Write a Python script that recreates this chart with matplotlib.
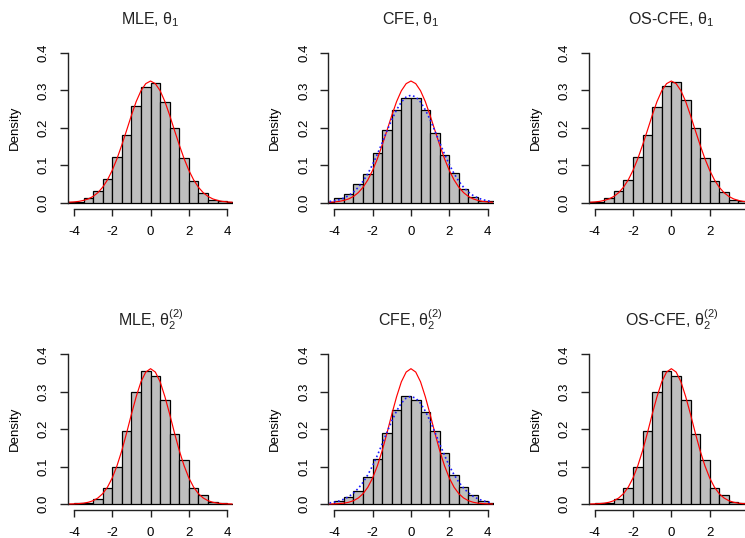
import matplotlib
matplotlib.use("Agg")
import matplotlib.pyplot as plt
import numpy as np

plt.rcParams['font.family'] = ['Liberation Sans', 'DejaVu Sans']
plt.rcParams['mathtext.fontset'] = 'custom'
plt.rcParams['mathtext.rm'] = 'Liberation Sans'
plt.rcParams['mathtext.it'] = 'Liberation Sans:italic'

# histogram bins (left edges, width 0.5)
bin_left = np.arange(-5.0, 5.0, 0.5)

# densities per bin (-5 ... 4.5)
mle_t1 = [0, 0.002, 0.002, 0.0125, 0.032, 0.064, 0.123, 0.180, 0.258, 0.309,
          0.321, 0.270, 0.200, 0.118, 0.058, 0.026, 0.006, 0.003, 0.001, 0]
cfe_t1 = [0, 0.002, 0.013, 0.022, 0.049, 0.077, 0.132, 0.193, 0.248, 0.280,
          0.280, 0.248, 0.187, 0.126, 0.078, 0.035, 0.016, 0.005, 0.003, 0]
os_t1 = [0, 0.002, 0.002, 0.0125, 0.031, 0.061, 0.123, 0.180, 0.255, 0.312,
         0.322, 0.274, 0.200, 0.119, 0.058, 0.027, 0.006, 0.003, 0.001, 0]
mle_t2 = [0, 0, 0.003, 0.004, 0.013, 0.043, 0.098, 0.195, 0.299, 0.357,
          0.343, 0.279, 0.188, 0.117, 0.043, 0.023, 0.005, 0.003, 0, 0]
cfe_t2 = [0, 0, 0.007, 0.019, 0.036, 0.072, 0.120, 0.191, 0.252, 0.288,
          0.279, 0.247, 0.195, 0.136, 0.078, 0.046, 0.023, 0.009, 0.004, 0]
os_t2 = [0, 0, 0.003, 0.004, 0.013, 0.043, 0.098, 0.195, 0.299, 0.357,
         0.343, 0.279, 0.188, 0.117, 0.043, 0.023, 0.005, 0.003, 0, 0]

# curve grid and curve heights
curve_x = np.arange(-4.25, 4.26, 0.25)
red_t1 = [0.0008, 0.0016, 0.0030, 0.0056, 0.0097, 0.0163, 0.0264, 0.0408, 0.0605,
          0.0861, 0.1175, 0.154, 0.193, 0.233, 0.270, 0.299, 0.318, 0.325,
          0.318, 0.299, 0.270, 0.233, 0.193, 0.154, 0.1175, 0.0861, 0.0605,
          0.0408, 0.0264, 0.0163, 0.0097, 0.0056, 0.0030, 0.0016, 0.0008]
red_t2 = [0.0002, 0.0005, 0.0011, 0.0023, 0.0047, 0.0089, 0.0161, 0.0276, 0.0450,
          0.0698, 0.1026, 0.143, 0.190, 0.240, 0.287, 0.327, 0.353, 0.362,
          0.353, 0.327, 0.287, 0.240, 0.190, 0.143, 0.1026, 0.0698, 0.0450,
          0.0276, 0.0161, 0.0089, 0.0047, 0.0023, 0.0011, 0.0005, 0.0002]
blue_t1 = [0.0027, 0.0046, 0.0075, 0.0120, 0.0186, 0.0280, 0.0406, 0.0569, 0.0774,
           0.1019, 0.130, 0.1603, 0.1915, 0.2216, 0.248, 0.269, 0.2824, 0.287,
           0.2824, 0.269, 0.248, 0.2216, 0.1915, 0.1603, 0.130, 0.1019, 0.0774,
           0.0569, 0.0406, 0.0280, 0.0186, 0.0120, 0.0075, 0.0046, 0.0027]
blue_t2 = [0.0030, 0.0050, 0.0082, 0.0130, 0.0198, 0.0292, 0.0418, 0.0580, 0.0782,
           0.1025, 0.1305, 0.1610, 0.1920, 0.2222, 0.2490, 0.2700, 0.2835, 0.288,
           0.2830, 0.2695, 0.2485, 0.2220, 0.1920, 0.1610, 0.1305, 0.1025, 0.0785,
           0.0585, 0.0425, 0.0300, 0.0205, 0.0138, 0.0088, 0.0055, 0.0033]

titles = [r'MLE, $\mathrm{\theta}_1$', r'CFE, $\mathrm{\theta}_1$', r'OS-CFE, $\mathrm{\theta}_1$',
          r'MLE, $\mathrm{\theta}_2^{(2)}$', r'CFE, $\mathrm{\theta}_2^{(2)}$',
          r'OS-CFE, $\mathrm{\theta}_2^{(2)}$']
hists = [mle_t1, cfe_t1, os_t1, mle_t2, cfe_t2, os_t2]
reds = [red_t1, red_t1, red_t1, red_t2, red_t2, red_t2]
blues = [None, blue_t1, None, None, blue_t2, None]

W, H = 745, 538
fig = plt.figure(figsize=(W / 100, H / 100), dpi=100)

col_left = [67.8, 328.2, 588.6]
row_top = [47.0, 348.5]
ax_w, ax_h = 165.5, 161.5

for i in range(6):
    r, c = divmod(i, 3)
    left, top = col_left[c], row_top[r]
    ax = fig.add_axes([left / W, 1 - (top + ax_h) / H, ax_w / W, ax_h / H])

    ax.bar(bin_left, hists[i], width=0.5, align='edge', color='#bebebe',
           edgecolor='black', linewidth=0.9)
    ax.plot(curve_x, reds[i], color='red', lw=0.85)
    if blues[i] is not None:
        ax.plot(curve_x, blues[i], color='#1a1aff', lw=1.2, ls=(0, (1, 1.6)))

    ax.set_xlim(-4.32, 4.32)
    ax.set_ylim(-0.016, 0.416)
    ax.spines['top'].set_visible(False)
    ax.spines['right'].set_visible(False)
    ax.spines['left'].set_bounds(0, 0.4)
    ax.spines['bottom'].set_bounds(-4, 4)
    for s in ('left', 'bottom'):
        ax.spines[s].set_linewidth(1.0)
        ax.spines[s].set_color('#222222')

    ax.set_xticks([-4, -2, 0, 2, 4])
    ax.set_xticklabels(['-4', '-2', '0', '2', '4'])
    ax.set_yticks([0, 0.1, 0.2, 0.3, 0.4])
    ax.set_yticklabels(['0.0', '0.1', '0.2', '0.3', '0.4'], rotation=90, va='center')
    ax.tick_params(axis='x', length=5, width=1.0, pad=7.6, labelsize=9.5, color='#222222')
    ax.tick_params(axis='y', length=6, width=1.0, pad=7, labelsize=9.5, color='#222222')
    ax.patch.set_alpha(0)

    ax.text(-53 / ax_w, 0.5, 'Density', rotation=90, ha='center', va='center',
            fontsize=9.5, transform=ax.transAxes)

    base = 24.5 + r * 301.5
    fig.text((left + ax_w / 2) / W, 1 - base / H, titles[i], ha='center',
             va='baseline', fontsize=11.5, color='#222222')

fig.savefig('out.png', dpi=100)
